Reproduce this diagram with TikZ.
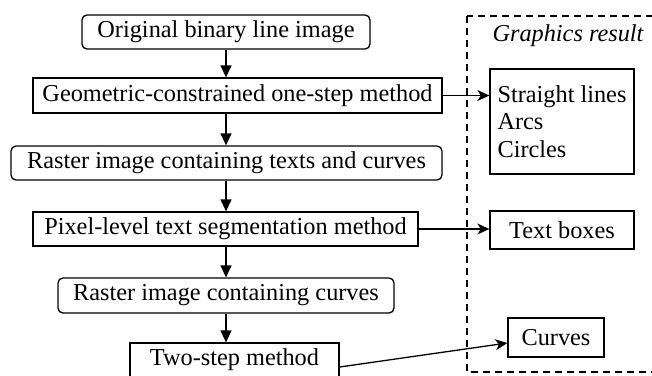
\documentclass[tikz,border=0pt]{standalone}
\usepackage{fontspec}
\setmainfont{Liberation Serif}
\usetikzlibrary{arrows.meta,calc}
\begin{document}
\begin{tikzpicture}[x=1pt,y=-1pt,
  font=\fontsize{24.3}{27.5}\selectfont,
  boxs/.style={draw,line width=1.3pt,inner sep=0pt,align=center},
  rbox/.style={boxs,rounded corners=5pt},
  flow/.style={line width=1.3pt,-{Triangle[length=12pt,width=11pt]}},
  side/.style={line width=1.3pt,-{Stealth[length=12pt,width=11pt,inset=3.5pt]}}]
\useasboundingbox (0,0) rectangle (652,375);
\node[rbox,minimum width=288pt,minimum height=34pt] (b1) at (226,32) {Original binary line image};
\node[boxs,minimum width=409pt,minimum height=35pt] (b2) at (237.5,95.5) {Geometric-constrained one-step method};
\node[rbox,minimum width=431pt,minimum height=34pt] (b3) at (226.5,163) {Raster image containing texts and curves};
\node[boxs,minimum width=385pt,minimum height=34pt] (b4) at (225.5,229) {Pixel-level text segmentation method};
\node[rbox,minimum width=336pt,minimum height=35pt] (b5) at (226,295.5) {Raster image containing curves};
\node[boxs,minimum width=209pt,minimum height=34pt] (b6) at (234.5,360) {Two-step method};
\draw[dashed,line width=1.3pt,dash pattern=on 7pt off 5pt] (467,16) rectangle (660,372);
\node (gr) at (568,36) {\itshape Graphics result};
\node[boxs,align=left,minimum width=144pt,minimum height=105pt] (r1) at (562,121.5) {Straight lines\\Arcs\\Circles};
\node[boxs,minimum width=144pt,minimum height=38pt] (r2) at (562,230) {Text boxes};
\node[boxs,minimum width=96pt,minimum height=39pt] (r3) at (556,337.5) {Curves};
\coordinate (c1) at (226,49);
\draw[flow] (b1.south -| c1) -- (b2.north -| c1);
\draw[flow] (b2.south -| c1) -- (b3.north -| c1);
\draw[flow] (b3.south -| c1) -- (b4.north -| c1);
\draw[flow] (b4.south -| c1) -- (b5.north -| c1);
\draw[flow] (b5.south -| c1) -- (b6.north -| c1);
\draw[side] (b2.east) -- (b2.east -| r1.west);
\draw[side] (b4.east) -- (b4.east -| r2.west);
\draw[side] ($(b6.east)+(0,7)$) -- ($(r3.west)+(0,5.5)$);
\end{tikzpicture}
\end{document}
